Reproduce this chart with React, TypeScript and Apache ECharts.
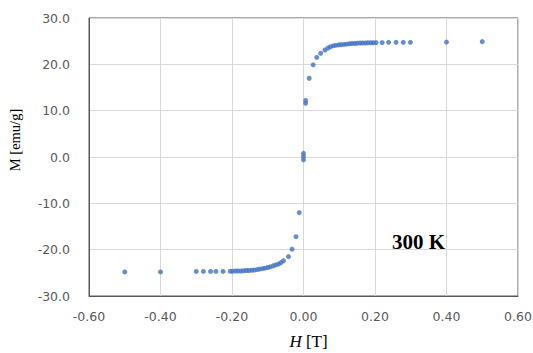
import React, { useEffect, useRef } from "react";
import * as echarts from "echarts";

// Magnetization loop at 300 K: applied field H [T] vs. magnetization M [emu/g]
const fieldH: number[] = [
  -0.5, -0.4, -0.3, -0.28, -0.26, -0.245, -0.225, -0.205, -0.198, -0.19, -0.183,
  -0.175, -0.168, -0.16, -0.153, -0.145, -0.138, -0.13, -0.123, -0.115, -0.108,
  -0.1, -0.093, -0.085, -0.078, -0.07, -0.063, -0.056, -0.042, -0.032, -0.021,
  -0.012, 0.0, 0.0, 0.0, 0.006, 0.006, 0.016, 0.027, 0.037, 0.048, 0.06, 0.068,
  0.075, 0.083, 0.09, 0.098, 0.105, 0.113, 0.12, 0.128, 0.135, 0.143, 0.15,
  0.158, 0.165, 0.173, 0.18, 0.188, 0.195, 0.203, 0.22, 0.238, 0.259, 0.279,
  0.299, 0.4, 0.5,
];

const magnetization: number[] = [
  -24.8, -24.8, -24.7, -24.7, -24.7, -24.7, -24.7, -24.65, -24.65, -24.6, -24.6,
  -24.6, -24.55, -24.5, -24.5, -24.45, -24.4, -24.3, -24.2, -24.1, -24.0,
  -23.85, -23.7, -23.5, -23.3, -23.1, -22.8, -22.4, -21.5, -19.9, -17.2,
  -12.0, 0.8, 0.1, -0.6, 12.2, 11.6, 17.0, 19.9, 21.5, 22.4, 23.1, 23.5,
  23.8, 24.0, 24.1, 24.2, 24.25, 24.3, 24.35, 24.45, 24.5, 24.5, 24.55,
  24.6, 24.6, 24.6, 24.65, 24.65, 24.65, 24.7, 24.7, 24.75, 24.75, 24.75,
  24.75, 24.8, 24.9,
];

const xTicks = { min: -0.6, max: 0.6, interval: 0.2 };
const yTicks = { min: -30, max: 30, interval: 10 };

const temperatureLabel = "300 K";
const yTitle = "M [emu/g]";

export default function App() {
  const ref = useRef<HTMLDivElement>(null);

  useEffect(() => {
    document.body.style.margin = "0";
    if (!ref.current) return;
    const chart = echarts.init(ref.current, undefined, { renderer: "svg" });
    const points = fieldH.map((h, i) => [h, magnetization[i]]);
    const tickFont = {
      color: "#595959",
      fontFamily: "DejaVu Sans, Verdana, sans-serif",
      fontSize: 12.5,
    };
    const serif = "Liberation Serif, Times New Roman, serif";

    chart.setOption({
      animation: false,
      backgroundColor: "#ffffff",
      grid: {
        left: 89,
        right: 15,
        top: 18,
        bottom: 57,
        outerBoundsMode: "none",
        containLabel: false,
        show: true,
        borderColor: "#595959",
        borderWidth: 1,
      },
      xAxis: {
        type: "value",
        min: xTicks.min,
        max: xTicks.max,
        interval: xTicks.interval,
        name: "{i|H} [T]",
        nameLocation: "middle",
        nameGap: 37,
        nameTextStyle: {
          color: "#000",
          fontFamily: serif,
          fontSize: 17,
          lineHeight: 17,
          padding: [0, 0, 0, 10],
          rich: {
            i: {
              fontStyle: "italic",
              fontFamily: serif,
              fontSize: 17,
              lineHeight: 17,
              color: "#000",
            },
          },
        },
        axisLine: { show: true, onZero: false, lineStyle: { color: "#595959" } },
        axisTick: { show: false },
        axisLabel: {
          ...tickFont,
          margin: 14,
          formatter: (v: number) => v.toFixed(2),
        },
        splitLine: { show: true, lineStyle: { color: "#d9d9d9", width: 1 } },
      },
      yAxis: {
        type: "value",
        min: yTicks.min,
        max: yTicks.max,
        interval: yTicks.interval,
        axisLine: { show: true, onZero: false, lineStyle: { color: "#595959" } },
        axisTick: { show: false },
        axisLabel: {
          ...tickFont,
          margin: 19,
          formatter: (v: number) => v.toFixed(1),
        },
        splitLine: { show: true, lineStyle: { color: "#d9d9d9", width: 1 } },
      },
      graphic: [
        {
          type: "text",
          x: 15,
          y: 140,
          rotation: Math.PI / 2,
          style: {
            text: yTitle,
            fill: "#000",
            font: "14.5px 'Liberation Serif', 'Times New Roman', serif",
            align: "center",
            verticalAlign: "middle",
          },
        },
        {
          type: "text",
          x: 392,
          y: 252,
          style: {
            text: temperatureLabel,
            fill: "#000",
            font: "bold 21px 'Liberation Serif', 'Times New Roman', serif",
            align: "left",
            verticalAlign: "bottom",
          },
        },
      ],
      series: [
        {
          type: "scatter",
          data: points,
          symbol: "circle",
          symbolSize: 5,
          itemStyle: { color: "#4472C4" },
        },
      ],
    });

    return () => chart.dispose();
  }, []);

  return <div ref={ref} style={{ width: 533, height: 353 }} />;
}
